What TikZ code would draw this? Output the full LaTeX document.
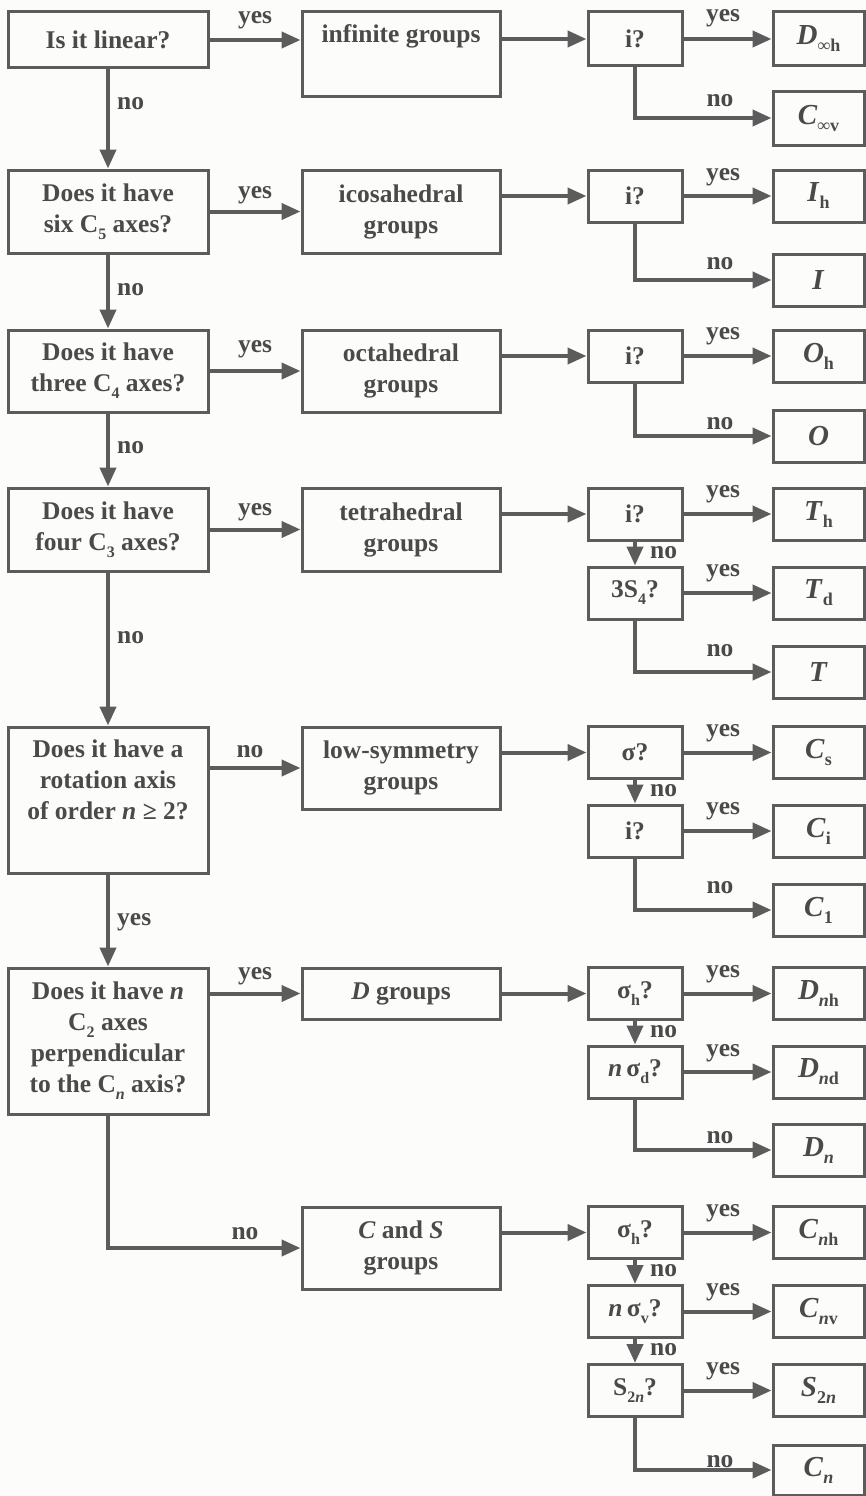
\documentclass[tikz,border=0pt]{standalone}
\usepackage{fontspec}
\setmainfont{Liberation Serif}
\usetikzlibrary{arrows.meta}
\definecolor{ln}{HTML}{5C5C5C}
\definecolor{tx}{HTML}{4A4A4A}
\definecolor{bg}{HTML}{FCFCFA}
\newcommand\sbs[1]{\raisebox{-7pt}{\fontsize{16}{16}\selectfont #1}}
\newcommand\rsb[1]{\raisebox{-7pt}{\fontsize{18}{18}\selectfont #1}}
\tikzset{
 box/.style={draw=ln, line width=3pt, rectangle, inner sep=0pt, text=tx, font=\bfseries\fontsize{25.5}{31}\selectfont, align=center},
 qbox/.style={box, minimum width=200pt},
 gbox/.style={box, minimum width=198pt},
 tbox/.style={box, minimum width=94pt, minimum height=52pt},
 rbox/.style={box, minimum width=91pt, minimum height=52pt, font=\bfseries\fontsize{29}{31}\selectfont},
 arr/.style={draw=ln, line width=4pt, -{Triangle[length=19pt,width=16pt]}},
 lab/.style={text=tx, font=\bfseries\fontsize{25.5}{31}\selectfont, inner sep=0pt},
}
\begin{document}
\begin{tikzpicture}[x=1pt,y=-1pt]
\fill[bg] (0,0) rectangle (866,1496);
\useasboundingbox (0,0) rectangle (866,1496);
% column 1
\node[qbox, minimum height=56pt] (q1) at (108,40) {Is it linear?};
\node[qbox, minimum height=83pt] (q2) at (108,211.5) {Does it have\\six C\sbs{5} axes?};
\node[qbox, minimum height=82pt] (q3) at (108,371) {Does it have\\three C\sbs{4} axes?};
\node[qbox, minimum height=83pt] (q4) at (108,529.5) {Does it have\\four C\sbs{3} axes?};
\node[qbox, minimum height=146pt] (q5) at (108,800) {Does it have a\\rotation axis\\of order \textit{n} ≥ 2?\\\strut};
\node[qbox, minimum height=146pt] (q6) at (108,1041) {Does it have \textit{n}\\C\sbs{2} axes\\perpendicular\\to the C\sbs{\textit{n}} axis?};
% column 2
\node[gbox, minimum height=84pt] (g1) at (401,54) {infinite groups\\\strut};
\node[gbox, minimum height=83pt] (g2) at (401,211.5) {icosahedral\\groups};
\node[gbox, minimum height=82pt] (g3) at (401,371) {octahedral\\groups};
\node[gbox, minimum height=83pt] (g4) at (401,529.5) {tetrahedral\\groups};
\node[gbox, minimum height=82pt] (g5) at (401,768) {low-symmetry\\groups};
\node[gbox, minimum height=51pt] (g6) at (401,993.5) {\textit{D} groups};
\node[gbox, minimum height=82pt] (g7) at (401,1248) {\textit{C} and \textit{S}\\groups};
% column 3
\node[tbox, minimum height=54pt] (a1) at (635,39) {i?};
\node[tbox] (a2) at (635,196) {i?};
\node[tbox] (a3) at (635,356) {i?};
\node[tbox] (a4) at (635,514) {i?};
\node[tbox] (a5) at (635,593) {3S\sbs{4}?};
\node[tbox] (a6) at (635,752.5) {σ?};
\node[tbox] (a7) at (635,831) {i?};
\node[tbox] (a8) at (635,993.5) {σ\sbs{h}?};
\node[tbox] (a9) at (635,1072) {\textit{n}\,σ\sbs{d}?};
\node[tbox] (a10) at (635,1232.5) {σ\sbs{h}?};
\node[tbox] (a11) at (635,1311.5) {\textit{n}\,σ\sbs{v}?};
\node[tbox] (a12) at (635,1390.5) {S\sbs{2\textit{n}}?};
% column 4
\node[rbox, minimum height=54pt] (r1) at (818.5,39) {\textit{D}\rsb{∞h}};
\node[rbox, minimum height=54pt] (r2) at (818.5,118) {\textit{C}\rsb{∞v}};
\node[rbox] (r3) at (818.5,196) {\textit{I}\rsb{h}};
\node[rbox] (r4) at (818.5,280) {\textit{I}};
\node[rbox] (r5) at (818.5,356) {\textit{O}\rsb{h}};
\node[rbox] (r6) at (818.5,436) {\textit{O}};
\node[rbox] (r7) at (818.5,514) {\textit{T}\rsb{h}};
\node[rbox] (r8) at (818.5,593) {\textit{T}\rsb{d}};
\node[rbox] (r9) at (818.5,672) {\textit{T}};
\node[rbox] (r10) at (818.5,752.5) {\textit{C}\rsb{s}};
\node[rbox] (r11) at (818.5,831) {\textit{C}\rsb{i}};
\node[rbox] (r12) at (818.5,910) {\textit{C}\rsb{1}};
\node[rbox] (r13) at (818.5,993.5) {\textit{D}\rsb{\textit{n}h}};
\node[rbox] (r14) at (818.5,1072) {\textit{D}\rsb{\textit{n}d}};
\node[rbox] (r15) at (818.5,1150) {\textit{D}\rsb{\textit{n}}};
\node[rbox] (r16) at (818.5,1232.5) {\textit{C}\rsb{\textit{n}h}};
\node[rbox] (r17) at (818.5,1311.5) {\textit{C}\rsb{\textit{n}v}};
\node[rbox] (r18) at (818.5,1390.5) {\textit{S}\rsb{2\textit{n}}};
\node[rbox, minimum height=50pt] (r19) at (818.5,1470) {\textit{C}\rsb{\textit{n}}};
% column 1 vertical arrows
\draw[arr] (q1) -- (q2);
\draw[arr] (q2) -- (q3);
\draw[arr] (q3) -- (q4);
\draw[arr] (q4) -- (q5);
\draw[arr] (q5) -- (q6);
\draw[arr] (q6.south) |- (g7.west);
\node[lab, anchor=west] (l1) at (117,104) {no};
\node[lab, anchor=west] (l2) at (117,290) {no};
\node[lab, anchor=west] (l3) at (117,448) {no};
\node[lab, anchor=west] (l4) at (117,638) {no};
\node[lab, anchor=west] (l5) at (117,922) {yes};
\node[lab] (l6) at (245,1234) {no};
% column 1 -> column 2
\draw[arr] (q1.east) -- (q1.east -| g1.west);
\draw[arr] (q2.east |- g2.west) -- (g2.west);
\draw[arr] (q3.east |- g3.west) -- (g3.west);
\draw[arr] (q4.east |- g4.west) -- (g4.west);
\draw[arr] (q5.east |- g5.west) -- (g5.west);
\draw[arr] (q6.east |- g6.west) -- (g6.west);
\node[lab] (m1) at (255,20) {yes};
\node[lab] (m2) at (255,195) {yes};
\node[lab] (m3) at (255,349) {yes};
\node[lab] (m4) at (255,512) {yes};
\node[lab] (m5) at (250,752) {no};
\node[lab] (m6) at (255,976) {yes};
% column 2 -> column 3
\draw[arr] (g1.east |- a1.west) -- (a1.west);
\draw[arr] (g2.east |- a2.west) -- (a2.west);
\draw[arr] (g3.east |- a3.west) -- (a3.west);
\draw[arr] (g4.east |- a4.west) -- (a4.west);
\draw[arr] (g5.east |- a6.west) -- (a6.west);
\draw[arr] (g6.east |- a8.west) -- (a8.west);
\draw[arr] (g7.east |- a10.west) -- (a10.west);
% column 3 vertical arrows
\draw[arr] (a4) -- (a5);
\draw[arr] (a6) -- (a7);
\draw[arr] (a8) -- (a9);
\draw[arr] (a10) -- (a11);
\draw[arr] (a11) -- (a12);
\node[lab, anchor=west] (v1) at (650,553) {no};
\node[lab, anchor=west] (v2) at (650,791) {no};
\node[lab, anchor=west] (v3) at (650,1032) {no};
\node[lab, anchor=west] (v4) at (650,1271) {no};
\node[lab, anchor=west] (v5) at (650,1350) {no};
% column 3 -> column 4, yes
\draw[arr] (a1) -- (r1);
\draw[arr] (a2) -- (r3);
\draw[arr] (a3) -- (r5);
\draw[arr] (a4) -- (r7);
\draw[arr] (a5) -- (r8);
\draw[arr] (a6) -- (r10);
\draw[arr] (a7) -- (r11);
\draw[arr] (a8) -- (r13);
\draw[arr] (a9) -- (r14);
\draw[arr] (a10) -- (r16);
\draw[arr] (a11) -- (r17);
\draw[arr] (a12) -- (r18);
\node[lab] (y1) at (723,18) {yes};
\node[lab] (y2) at (723,177) {yes};
\node[lab] (y3) at (723,336) {yes};
\node[lab] (y4) at (723,494) {yes};
\node[lab] (y5) at (723,573) {yes};
\node[lab] (y6) at (723,733) {yes};
\node[lab] (y7) at (723,811) {yes};
\node[lab] (y8) at (723,974) {yes};
\node[lab] (y9) at (723,1053) {yes};
\node[lab] (y10) at (723,1213) {yes};
\node[lab] (y11) at (723,1292) {yes};
\node[lab] (y12) at (723,1371) {yes};
% column 3 -> column 4, no (elbows)
\draw[arr] (a1.south) |- (r2.west);
\draw[arr] (a2.south) |- (r4.west);
\draw[arr] (a3.south) |- (r6.west);
\draw[arr] (a5.south) |- (r9.west);
\draw[arr] (a7.south) |- (r12.west);
\draw[arr] (a9.south) |- (r15.west);
\draw[arr] (a12.south) |- (r19.west);
\node[lab] (n1) at (720,101) {no};
\node[lab] (n2) at (720,264) {no};
\node[lab] (n3) at (720,424) {no};
\node[lab] (n4) at (720,651) {no};
\node[lab] (n5) at (720,888) {no};
\node[lab] (n6) at (720,1138) {no};
\node[lab] (n7) at (720,1462) {no};
\end{tikzpicture}
\end{document}
